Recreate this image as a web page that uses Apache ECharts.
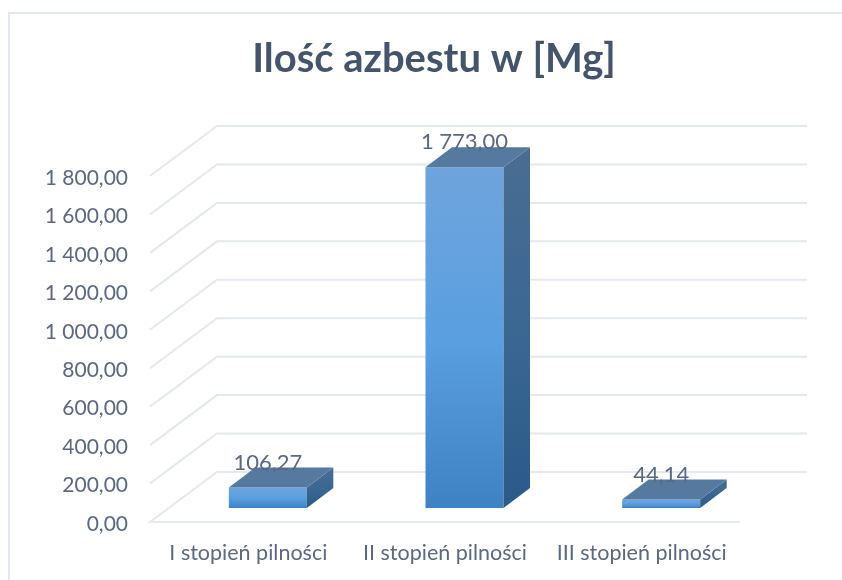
<!DOCTYPE html>
<html><head><meta charset="utf-8">
<style>html,body{margin:0;padding:0;background:#fff}#c{width:842px;height:580px}</style>
<script src="https://cdn.jsdelivr.net/npm/echarts@6/dist/echarts.min.js"></script>
</head><body><div id="c"></div>
<script>
const categories = ['I stopień pilności','II stopień pilności','III stopień pilności'];
const values = [106.27, 1773.00, 44.14];
const ticks = [0,200,400,600,800,1000,1200,1400,1600,1800];

const fmt = v => {
  const s = v.toFixed(2).split('.');
  return s[0].replace(/\B(?=(\d{3})+$)/g,' ') + ',' + s[1];
};
const FONT = 'Lato';
const TEXT = '#5a6880';
const WALL = [67,-50], BAR_SHIFT = [19.5,-14], BAR_DEPTH = [26.5,-20], BAR_W = 78;
const GRIDC = '#e4e8ef';

const chart = echarts.init(document.getElementById('c'), null, {renderer:'canvas'});
chart.setOption({
  animation:false,
  backgroundColor:'#fff',
  title:{text:'Ilość azbestu w [Mg]',left:429,top:34,textAlign:'center',
    textStyle:{fontFamily:FONT,fontSize:40,fontWeight:'bold',color:'#44546a'}},
  graphic:[{type:'rect',z:-1,shape:{x:9,y:13,width:860,height:600},
    style:{fill:'none',stroke:'#e3e7ef',lineWidth:2}}],
  grid:{left:150,top:176,width:590,height:346},
  xAxis:{type:'category',data:categories,
    axisLine:{show:false},axisTick:{show:false},
    axisLabel:{interval:0,fontFamily:FONT,fontSize:21.5,color:TEXT,margin:20,hideOverlap:false,width:196,overflow:'none'}},
  yAxis:{type:'value',min:0,max:1800,interval:200,
    axisLine:{show:false},axisTick:{show:false},splitLine:{show:false},
    axisLabel:{fontFamily:FONT,fontSize:21,color:TEXT,margin:22,
      formatter:v=>'{a|'+fmt(v)+'}',
      rich:{a:{fontFamily:FONT,fontSize:21,color:TEXT,padding:[4,0,0,0]}}}},
  series:[
    {type:'custom',z:1,silent:true,data:ticks.map(t=>[t]),
     encode:{y:0},
     renderItem(p,api){
       const sys=p.coordSys, y=api.coord([0,api.value(0)])[1];
       const x0=sys.x, x1=x0+WALL[0], x2=sys.x+sys.width+WALL[0];
       const pts = api.value(0)===0
         ? [[sys.x+sys.width,y],[x0,y],[x1,y+WALL[1]],[x2,y+WALL[1]]]
         : [[x0,y],[x1,y+WALL[1]],[x2,y+WALL[1]]];
       return {type:'polyline',shape:{points:pts},
         style:{fill:'none',stroke:GRIDC,lineWidth:2}};
     }},
    {type:'custom',z:2,silent:true,data:values.map((v,i)=>[i,v]),
     encode:{x:0,y:1},
     renderItem(p,api){
       const top=api.coord([api.value(0),api.value(1)]);
       const base=api.coord([api.value(0),0]);
       const cx=top[0]+BAR_SHIFT[0], l=cx-BAR_W/2, r=cx+BAR_W/2;
       const yt=top[1]+BAR_SHIFT[1], yb=base[1]+BAR_SHIFT[1];
       const dx=BAR_DEPTH[0], dy=BAR_DEPTH[1];
       const lg=(a,b,c)=>new echarts.graphic.LinearGradient(0,0,0,1,
         [{offset:0,color:a},{offset:.5,color:b},{offset:1,color:c}]);
       return {type:'group',children:[
         {type:'polygon',shape:{points:[[l,yt],[r,yt],[r,yb],[l,yb]]},
          style:{fill:lg('#6fa4dd','#5a9fe0','#3f82c3')}},
         {type:'polygon',shape:{points:[[r,yt],[r+dx,yt+dy],[r+dx,yb+dy],[r,yb]]},
          style:{fill:lg('#4a6d92','#3b6793','#2a5a88')}},
         {type:'polygon',shape:{points:[[l,yt],[l+dx,yt+dy],[r+dx,yt+dy],[r,yt]]},
          style:{fill:'#56799f'}},
         {type:'text',z2:10,style:{x:cx,y:yt-25,text:fmt(api.value(1)),
           fontFamily:FONT,fontSize:22,fill:TEXT,align:'center',verticalAlign:'middle'}}
       ]};
     }}
  ]
});
</script></body></html>
